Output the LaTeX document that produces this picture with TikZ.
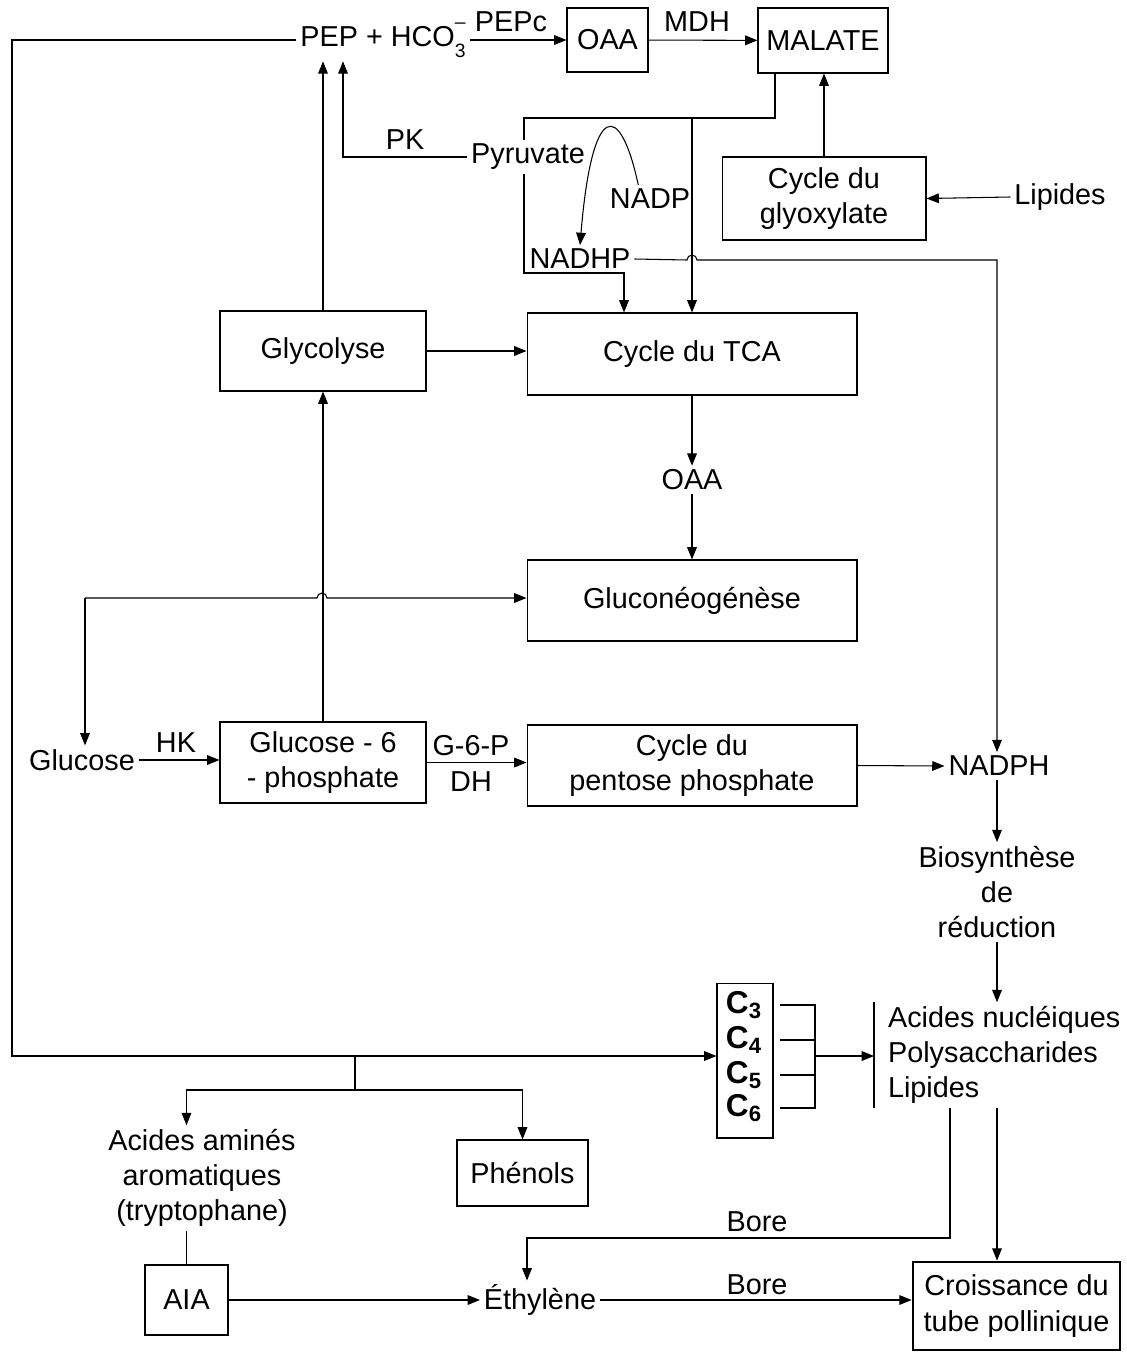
\documentclass[tikz,border=0pt]{standalone}
\usepackage{fontspec}
\setmainfont{Liberation Sans}
\usetikzlibrary{arrows.meta}
\begin{document}
\begin{tikzpicture}[x=0.02cm,y=-0.02cm,semithick,
  every node/.style={font=\fontsize{16.4}{20}\selectfont,inner sep=2pt},
  box/.style={draw,align=center},
  >={Triangle[length=7pt,width=5.5pt]}]
\useasboundingbox (0,0) rectangle (1126,1352);
\node at (383,40) (pep) {PEP + HCO\rlap{\raisebox{0.62em}{\fontsize{11}{11}\selectfont --}}\raisebox{-0.38em}{\fontsize{11}{11}\selectfont 3}};
\node[box,minimum width=1.62cm,minimum height=1.28cm] at (607.5,40) (oaa) {OAA};
\node[box,minimum width=2.6cm,minimum height=1.3cm] at (823,40.5) (mal) {MALATE};
\node at (528,157) (pyr) {Pyruvate};
\node at (650,199) (nadp) {NADP};
\node at (580,259) (nadhp) {NADHP};
\node[box,minimum width=4.08cm,minimum height=1.66cm] at (824,198.5) (glyox) {Cycle du\\glyoxylate};
\node at (1060,197) (lip) {Lipides};
\node[box,minimum width=4.12cm,minimum height=1.6cm] at (323,351) (glyc) {Glycolyse};
\node[box,minimum width=6.6cm,minimum height=1.64cm] at (692,354) (tca) {Cycle du TCA};
\node at (692,480) (oaa2) {OAA};
\node[box,minimum width=6.6cm,minimum height=1.62cm] at (692,600.5) (gneo) {Gluconéogénèse};
\node at (82,760) (glc) {Glucose};
\node[box,minimum width=4.12cm,minimum height=1.62cm] at (323,762.5) (g6p) {Glucose - 6\\- phosphate};
\node[box,minimum width=6.6cm,minimum height=1.62cm] at (692,765.5) (ppp) {Cycle du\\pentose phosphate};
\node at (999,766) (nadph) {NADPH};
\node[align=center] at (997,892) (bios) {Biosynth\`ese\\de\\réduction};
\node[box,minimum width=1.12cm,minimum height=3.1cm] at (745,1060.5) (cbox) {};
\node[font=\fontsize{18}{20}\selectfont\bfseries] at (744,1005) (c3) {C\textsubscript{3}};
\node[font=\fontsize{18}{20}\selectfont\bfseries] at (744,1040) (c4) {C\textsubscript{4}};
\node[font=\fontsize{18}{20}\selectfont\bfseries] at (744,1075) (c5) {C\textsubscript{5}};
\node[font=\fontsize{18}{20}\selectfont\bfseries] at (744,1108) (c6) {C\textsubscript{6}};
\node[align=left,anchor=west] at (884,1055) (prod) {Acides nucléiques\\Polysaccharides\\Lipides};
\node[align=center] at (202,1178) (aa) {Acides aminés\\aromatiques\\(tryptophane)};
\node[box,minimum width=2.62cm,minimum height=1.32cm] at (522.5,1173) (phen) {Phénols};
\node[box,minimum width=1.66cm,minimum height=1.4cm] at (186.5,1300) (aia) {AIA};
\node at (540,1300) (eth) {Éthylène};
\node[box,line width=1.6pt,minimum width=4.14cm,minimum height=1.76cm] at (1016.5,1306) (croi) {Croissance du\\tube pollinique};
\node at (511,22) (pepc) {PEPc};
\node at (697,22) (mdh) {MDH};
\node at (405,140) (pk) {PK};
\node at (176,743) (hk) {HK};
\node at (471,746) (g6pdh) {G-6-P};
\node at (471,782) (dh) {DH};
\node at (757,1222) (bore1) {Bore};
\node at (757,1285) (bore2) {Bore};
\draw[->] (pep.east) -- (oaa.west |- pep.east);
\draw[->] (oaa) -- (mal);
\draw[->] (glyc.north) -- (glyc.north |- pep.south);
\coordinate (pkc) at (343,157);
\draw[->] (pyr.west) -- (pkc) -- (pkc |- pep.south);
\draw[->] (nadp.130) .. controls (620,100) and (592,100) .. (nadhp.north);
\coordinate (mt) at (775,118);
\coordinate (kl) at (524,118);
\coordinate (ka) at (624,273);
\draw (mal.south -| mt) -- (mt) -- (kl) -- (kl |- pyr.north);
\draw[->] (kl |- pyr.south) |- (ka) -- (ka |- tca.north);
\draw[->] (tca.north |- mt) -- (tca.north);
\coordinate (hp) at (687,260);
\coordinate (nr) at (997,260);
\draw[->] (nadhp.east) -- (hp) arc (180:360:5) -- (nr) -- (nr |- nadph.north);
\draw[->] (glyox.north) -- (glyox.north |- mal.south);
\draw[->] (lip.west) -- (glyox.east);
\draw[->] (glyc.east) -- (glyc.east -| tca.west);
\draw[->] (tca.south) -- (oaa2.north);
\draw[->] (oaa2.south) -- (gneo.north);
\coordinate (gl) at (85,598);
\draw[->] (gl) -- (317,598) arc (180:360:5) -- (gneo.west |- gl);
\draw[->] (gl) -- (gl |- glc.north);
\draw[->] (g6p.north) -- (glyc.south);
\draw[->] (glc.east) -- (g6p.west |- glc.east);
\draw[->] (g6p.east) -- (ppp.west |- g6p.east);
\draw[->] (ppp.east) -- (nadph.west);
\draw[->] (nadph.south -| bios) -- (bios.north);
\draw[->] (bios.south) -- (bios.south |- prod.north);
\coordinate (lb) at (12,1056);
\draw[->] (pep.west) -| (lb) -- (cbox.west |- lb);
\coordinate (bt) at (355,1056);
\coordinate (bb) at (355,1090);
\draw (bt) -- (bb);
\draw[->] (bb) -| (aia |- aa.north);
\draw[->] (bb) -| (phen.north);
\coordinate (cx) at (780,0);
\coordinate (cj) at (815,1056);
\foreach \c in {c3,c4,c5,c6} \draw (cx |- \c) -| (cj);
\coordinate (pb) at (874,1056);
\draw[->] (cj) -- (pb);
\draw (pb |- prod.north) -- (pb |- prod.south);
\coordinate (lx) at (950,1238);
\coordinate (le) at (527,1238);
\draw[->] (prod.south -| lx) -- (lx) -- (le) -- (le |- eth.north);
\coordinate (rx) at (997,1112);
\draw[->] (prod.south -| rx) -- (rx |- croi.north);
\draw[->] (eth.east) -- (croi.west |- eth.east);
\draw[->] (aia.east) -- (eth.west);
\draw (aa.south -| aia) -- (aia.north);
\end{tikzpicture}
\end{document}
